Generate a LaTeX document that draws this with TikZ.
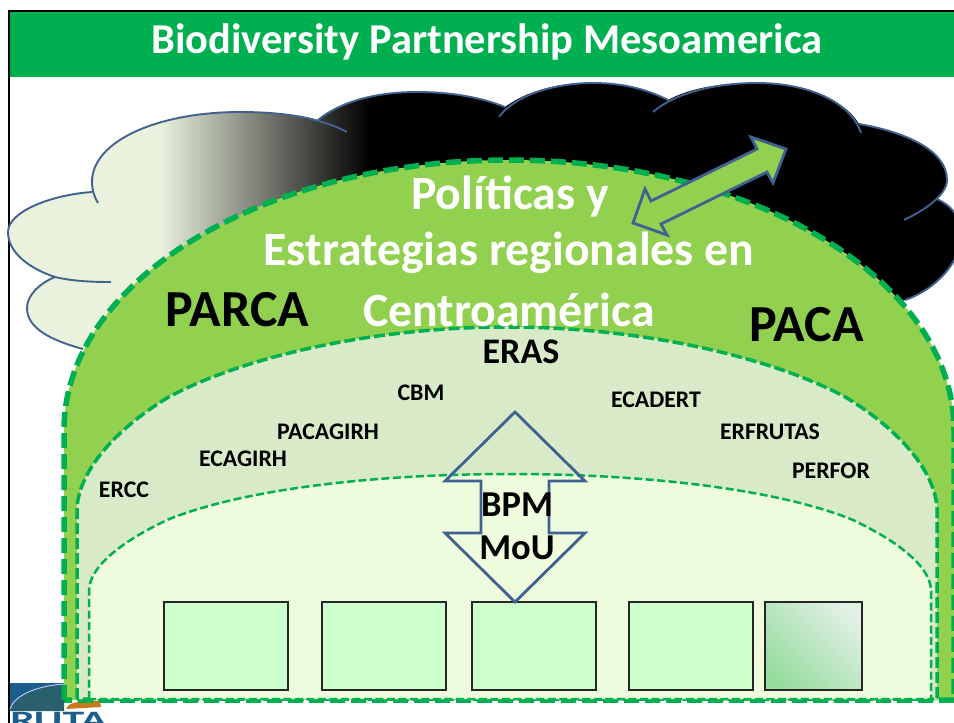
\documentclass[tikz,border=0pt]{standalone}
\usepackage{fontspec}
\setmainfont{Carlito}
\definecolor{gbar}{HTML}{00B050}
\definecolor{dome}{HTML}{92D050}
\definecolor{midd}{HTML}{D8EAC8}
\definecolor{inn}{HTML}{EEFBDC}
\definecolor{boxg}{HTML}{CCFFCC}
\definecolor{cloudl}{HTML}{EAF1DD}
\definecolor{edge}{HTML}{3F6290}
\definecolor{logob}{HTML}{1B5E8C}
\definecolor{logot}{HTML}{2A5F6E}
\definecolor{logoo}{HTML}{C8781E}
\definecolor{gradd}{HTML}{98DDA0}
\definecolor{gradl}{HTML}{E0F0E4}
\tikzset{
 lbl/.style={font=\bfseries\fontsize{23.8}{28}\selectfont,text=black,inner sep=0pt},
 wht/.style={font=\bfseries\fontsize{47.8}{56}\selectfont,text=white,inner sep=0pt},
 big/.style={font=\bfseries\fontsize{52}{62}\selectfont,text=black,inner sep=0pt},
 mid/.style={font=\bfseries\fontsize{36.5}{44}\selectfont,text=black,inner sep=0pt},
 cbox/.style={draw=black!85,line width=1.2pt,fill=boxg,minimum height=88pt,inner sep=0pt},
 cedge/.style={draw=edge,line width=1.9pt},
 arrowshape/.style={draw=edge,line width=2.8pt,line join=miter},
}
\begin{document}
\begin{tikzpicture}[x=1pt,y=-1pt]
\useasboundingbox (0,0) rectangle (954,723);
\fill[white] (0,0) rectangle (954,723);
\begin{scope}
\clip (0,0) rectangle (954,723);
% frame and title band
\fill[black] (7.5,9.5) rectangle (954,11.5);
\fill[black] (7.5,9.5) rectangle (9.5,723);
\fill[gbar] (9.5,11.5) rectangle (954,77);
% logo
\fill[logob] (9.5,683) rectangle (64,711);
\fill[logot] (9.5,711) .. controls (14,696) and (35,686) .. (64,685) -- (64,711) -- cycle;
\draw[white!80!blue,line width=0.9pt] (10,709) .. controls (14,696) and (35,686) .. (64,684);
\fill[logoo] (66,709) .. controls (68,703) and (75,701) .. (100,701) -- (101,707) -- (66,709) -- cycle;
\node[font=\bfseries\fontsize{25}{30}\selectfont,text=logob,xscale=1.75,inner sep=0pt,anchor=north west] (ruta) at (10,712) {RUTA};
% cloud fill
\begin{scope}
\clip (92,182) .. controls (92,140) and (160,112) .. (240,112)
  .. controls (270,112) and (298,114) .. (318,120)
  .. controls (340,102) and (375,92) .. (417,92)
  .. controls (450,92) and (480,97) .. (505,107)
  .. controls (525,92) and (555,83) .. (593,83)
  .. controls (625,83) and (648,90) .. (668,100)
  .. controls (690,88) and (720,83) .. (757,83)
  .. controls (805,83) and (845,100) .. (859,124)
  .. controls (905,132) and (947,150) .. (947,180)
  .. controls (947,188) and (942,194) .. (937,199)
  .. controls (950,205) and (960,215) .. (960,230)
  .. controls (965,260) and (935,290) .. (905,300)
  -- (500,420) -- (83,349)
  .. controls (50,340) and (27,328) .. (27,308)
  .. controls (27,295) and (40,283) .. (55,277)
  .. controls (28,268) and (8,252) .. (8,232)
  .. controls (8,212) and (50,195) .. (92,192) -- cycle;
\fill[cloudl] (0,60) rectangle (160,430);
\shade[left color=cloudl,right color=black] (160,60) rectangle (370,430);
\fill[black] (370,60) rectangle (970,430);
\end{scope}
% cloud outlines
\draw[cedge] (98,203) .. controls (94,196) and (92,190) .. (92,182) .. controls (92,140) and (160,112) .. (240,112) .. controls (285,112) and (320,118) .. (347,132);
\draw[cedge] (92,192) .. controls (50,195) and (8,212) .. (8,232) .. controls (8,252) and (28,268) .. (55,277) .. controls (72,281) and (90,282) .. (111,282);
\draw[cedge] (55,277) .. controls (40,283) and (27,295) .. (27,308) .. controls (27,328) and (50,340) .. (83,349);
\draw[cedge] (318,120) .. controls (340,102) and (375,92) .. (417,92) .. controls (450,92) and (480,97) .. (505,107);
\draw[cedge] (499,117) .. controls (515,95) and (555,83) .. (593,83) .. controls (625,83) and (648,90) .. (668,100);
\draw[cedge] (653,112) .. controls (675,93) and (715,83) .. (757,83) .. controls (805,83) and (850,100) .. (861,133);
\draw[cedge] (859,124) .. controls (905,132) and (947,150) .. (947,180) .. controls (947,195) and (925,210) .. (904,220);
\draw[cedge] (937,199) .. controls (950,205) and (960,215) .. (960,230) .. controls (965,260) and (935,290) .. (905,300);
% domes
\draw[fill=dome,draw=gbar,line width=5.5pt,dash pattern=on 15pt off 6pt] (64,700) -- (64,430) arc[start angle=180,end angle=0,x radius=445pt,y radius=270pt] -- (954,700) -- cycle;
\draw[fill=midd,draw=gbar,line width=3.5pt,dash pattern=on 11pt off 4pt] (77,699) -- (77,507)
  .. controls (80,470) and (115,430) .. (167,398)
  .. controls (240,358) and (370,327) .. (507,327)
  .. controls (644,327) and (774,358) .. (847,398)
  .. controls (899,430) and (934,470) .. (937,507) -- (937,699) -- cycle;
\draw[fill=inn,draw=gbar,line width=2.5pt,dash pattern=on 8pt off 3.5pt] (89,699) -- (89,590)
  .. controls (90,565) and (125,540) .. (167,520)
  .. controls (240,490) and (370,474) .. (510,474)
  .. controls (650,474) and (780,490) .. (853,520)
  .. controls (895,540) and (930,565) .. (931,590) -- (931,699) -- cycle;
\end{scope}
% boxes
\node[cbox,minimum width=124pt] (b1) at (226,646) {};
\node[cbox,minimum width=124pt] (b2) at (384,646) {};
\node[cbox,minimum width=124pt] (b3) at (534,646) {};
\node[cbox,minimum width=124pt] (b4) at (691,646) {};
\node[cbox,minimum width=97pt,bottom color=gradd,top color=gradl,shading angle=-45] (b5) at (813.5,646) {};
% vertical double arrow
\draw[arrowshape] (515,412) -- (585,481) -- (549,481) -- (549,533) -- (585,533) -- (515,602) -- (445,533) -- (481,533) -- (481,481) -- (445,481) -- cycle;
% diagonal double arrow
\draw[arrowshape,fill=dome] (786,149) -- (751,137) -- (757,149) -- (651,201) -- (645,189) -- (633,223) -- (667,235) -- (661,224) -- (767,172) -- (773,183) -- cycle;
% texts
\node[font=\bfseries\fontsize{42.5}{50}\selectfont,text=white,inner sep=0pt] (title) at (487,42) {Biodiversity Partnership Mesoamerica};
\node[wht] (t1) at (510,196) {Políticas y};
\node[wht] (t2) at (509,253) {Estrategias regionales en};
\node[wht] (t3) at (509,310) {Centroamérica};
\node[big] (parca) at (237.5,310) {PARCA};
\node[big] (paca) at (806.5,325) {PACA};
\node[font=\bfseries\fontsize{36}{43}\selectfont,text=black,inner sep=0pt] (eras) at (521,352) {ERAS};
\node[lbl] (cbm) at (421,393) {CBM};
\node[lbl] (ecadert) at (656,400) {ECADERT};
\node[lbl] (erfrutas) at (770,432) {ERFRUTAS};
\node[lbl] (perfor) at (831,471) {PERFOR};
\node[lbl] (pacagirh) at (328,432) {PACAGIRH};
\node[lbl] (ecagirh) at (243,459) {ECAGIRH};
\node[lbl] (ercc) at (124,490) {ERCC};
\node[mid] (bpm) at (517,505) {BPM};
\node[mid] (mou) at (517,548) {MoU};
\end{tikzpicture}
\end{document}
